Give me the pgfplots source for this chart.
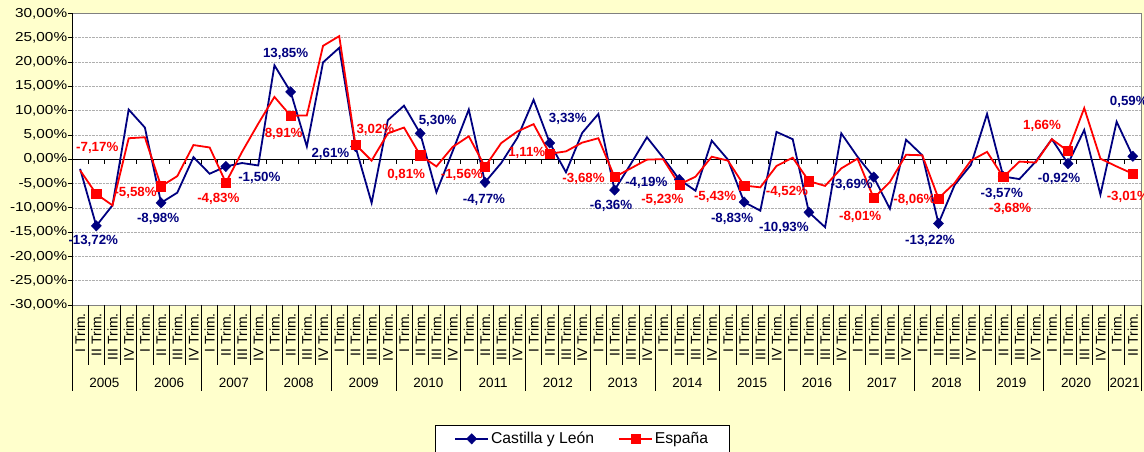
\documentclass[border=0pt]{standalone}
\usepackage{fontspec}
\setmainfont{Liberation Sans}
\usepackage{pgfplots}
\pgfplotsset{compat=1.18}
\usepackage{pgfplotstable}
\definecolor{navy}{RGB}{0,0,128}
\definecolor{exred}{RGB}{255,0,0}
\definecolor{bgyellow}{RGB}{255,255,204}
\definecolor{gridgray}{RGB}{175,175,175}

\pgfplotstableread{
x y
0 -2.0
1 -13.72
2 -9.5
3 10.2
4 6.5
5 -8.98
6 -6.9
7 0.4
8 -3.0
9 -1.50
10 -0.8
11 -1.3
12 19.3
13 13.85
14 2.6
15 19.9
16 22.9
17 2.61
18 -9.0
19 8.0
20 11.0
21 5.30
22 -6.8
23 1.6
24 10.2
25 -4.77
26 -0.8
27 4.4
28 12.2
29 3.33
30 -2.7
31 5.4
32 9.3
33 -6.36
34 -1.0
35 4.5
36 0.3
37 -4.19
38 -6.5
39 3.8
40 -0.1
41 -8.83
42 -10.6
43 5.6
44 4.1
45 -10.93
46 -14.0
47 5.3
48 0.5
49 -3.69
50 -10.2
51 4.0
52 0.8
53 -13.22
54 -5.3
55 -1.2
56 9.3
57 -3.57
58 -4.1
59 -0.5
60 4.1
61 -0.92
62 6.0
63 -7.3
64 7.7
65 0.59
}\castilla

\pgfplotstableread{
x y
0 -2.3
1 -7.17
2 -9.5
3 4.3
4 4.5
5 -5.58
6 -3.5
7 2.9
8 2.4
9 -4.83
10 1.5
11 7.3
12 12.8
13 8.91
14 9.0
15 23.3
16 25.3
17 3.02
18 -0.3
19 5.3
20 6.5
21 0.81
22 -1.5
23 2.5
24 4.7
25 -1.56
26 3.3
27 5.7
28 7.2
29 1.11
30 1.6
31 3.4
32 4.3
33 -3.68
34 -1.9
35 -0.1
36 0.0
37 -5.23
38 -3.6
39 0.5
40 -0.3
41 -5.43
42 -5.8
43 -1.4
44 0.3
45 -4.52
46 -5.5
47 -1.9
48 0.1
49 -8.01
50 -4.7
51 0.9
52 0.8
53 -8.06
54 -4.9
55 -0.3
56 1.5
57 -3.68
58 -0.5
59 -0.7
60 4.1
61 1.66
62 10.5
63 0.1
64 -1.5
65 -3.01
}\espana

\begin{document}
\begin{tikzpicture}
\useasboundingbox (0pt,0pt) rectangle (1144pt,452pt);
\fill[bgyellow] (0pt,0pt) rectangle (1144pt,452pt);
\begin{axis}[
  at={(72pt,147pt)}, anchor=south west,
  scale only axis, width=1069pt, height=291.7pt,
  xmin=-0.5, xmax=65.5, ymin=-30, ymax=30,
  clip=false,
  axis background/.style={fill=white},
  axis line style={draw=gray, line width=0.6pt},
  ytick={-30,-25,...,30},
  ymajorgrids,
  grid style={gridgray, densely dotted, line width=0.5pt},
  tick align=outside,
  major tick length=4pt,
  ytick pos=left,
  ytick style={black, line width=0.6pt},
  /pgf/number format/assume math mode=true,
  yticklabel={\pgfmathprintnumber[fixed,fixed zerofill,precision=2,use comma]{\tick}\%},
  yticklabel style={font=\fontsize{13}{15}\selectfont, xscale=1.18, inner xsep=0.5pt},
  xtick={0,...,65},
  xtick style={draw=none},
  xticklabels={I Trim.,II Trim.,III Trim.,IV Trim.,I Trim.,II Trim.,III Trim.,IV Trim.,I Trim.,II Trim.,III Trim.,IV Trim.,I Trim.,II Trim.,III Trim.,IV Trim.,I Trim.,II Trim.,III Trim.,IV Trim.,I Trim.,II Trim.,III Trim.,IV Trim.,I Trim.,II Trim.,III Trim.,IV Trim.,I Trim.,II Trim.,III Trim.,IV Trim.,I Trim.,II Trim.,III Trim.,IV Trim.,I Trim.,II Trim.,III Trim.,IV Trim.,I Trim.,II Trim.,III Trim.,IV Trim.,I Trim.,II Trim.,III Trim.,IV Trim.,I Trim.,II Trim.,III Trim.,IV Trim.,I Trim.,II Trim.,III Trim.,IV Trim.,I Trim.,II Trim.,III Trim.,IV Trim.,I Trim.,II Trim.,III Trim.,IV Trim.,I Trim.,II Trim.},
  xticklabel style={rotate=90, anchor=east, font=\fontsize{14}{16}\selectfont, inner xsep=4pt},
  legend columns=2,
  legend style={at={(axis description cs:0.3396,-0.4114)}, anchor=north west,
    draw=black, line width=0.6pt, fill=white, font=\fontsize{15.7}{18}\selectfont,
    inner xsep=19pt, inner ysep=5pt,
    /tikz/every even column/.append style={column sep=22pt}},
  legend image code/.code={
    \draw[#1, mark=none] (0pt,0pt) -- (33pt,0pt);
    \draw[#1, mark repeat=1, mark phase=1] plot coordinates {(16.5pt,0pt)};
  },
]
% zero line with its ticks
\draw[black, line width=0.8pt] (axis cs:-0.5,0) -- (axis cs:65.5,0);
\pgfplotsinvokeforeach{0.5,1.5,...,64.5}{\draw[black, line width=0.6pt] (axis cs:#1,0) -- ++(0pt,-5pt);}
% category separators below the plot
\pgfplotsinvokeforeach{0.5,1.5,...,64.5}{\draw[black, line width=0.7pt] (axis cs:#1,-30) -- ++(0pt,-60pt);}
\pgfplotsinvokeforeach{-0.5,3.5,...,63.5}{\draw[black, line width=0.7pt] (axis cs:#1,-30) -- ++(0pt,-86pt);}
\draw[black, line width=0.7pt] (axis cs:65.5,-30) -- ++(0pt,-86pt);
\draw[black, line width=0.8pt] (axis cs:-0.5,-30) -- (axis cs:-0.5,30);
% year labels
\begin{scope}[every node/.style={font=\fontsize{13.5}{15}\selectfont, yshift=-78pt}]
\node at (axis cs:1.5,-30) {2005};
\node at (axis cs:5.5,-30) {2006};
\node at (axis cs:9.5,-30) {2007};
\node at (axis cs:13.5,-30) {2008};
\node at (axis cs:17.5,-30) {2009};
\node at (axis cs:21.5,-30) {2010};
\node at (axis cs:25.5,-30) {2011};
\node at (axis cs:29.5,-30) {2012};
\node at (axis cs:33.5,-30) {2013};
\node at (axis cs:37.5,-30) {2014};
\node at (axis cs:41.5,-30) {2015};
\node at (axis cs:45.5,-30) {2016};
\node at (axis cs:49.5,-30) {2017};
\node at (axis cs:53.5,-30) {2018};
\node at (axis cs:57.5,-30) {2019};
\node at (axis cs:61.5,-30) {2020};
\node at (axis cs:64.5,-30) {2021};
\end{scope}

\addplot[navy, line width=1.8pt, mark=diamond*, mark repeat=4, mark phase=2,
  mark size=5.2pt, mark options={solid, xscale=1.3, line width=0.4pt, fill=navy}]
  table[x=x,y=y]{\castilla};
\addlegendentry{Castilla y León}
\addplot[exred, line width=1.8pt, mark=square*, mark repeat=4, mark phase=2,
  mark size=4.6pt, mark options={solid, line width=0.4pt, fill=exred}]
  table[x=x,y=y]{\espana};
\addlegendentry{España}

% data labels (Castilla y León)
\begin{scope}[every node/.style={anchor=center, inner sep=0pt, text=navy, font=\bfseries\fontsize{13.3}{15}\selectfont}]
\node[xshift=-3pt, yshift=-15pt] at (axis cs:1,-13.72) {-13,72\%};
\node[xshift=-3pt, yshift=-16pt] at (axis cs:5,-8.98) {-8,98\%};
\node[xshift=33.5pt, yshift=-11pt] at (axis cs:9,-1.50) {-1,50\%};
\node[xshift=-5pt, yshift=38pt] at (axis cs:13,13.85) {13,85\%};
\node[xshift=-25pt, yshift=-7pt] at (axis cs:17,2.61) {2,61\%};
\node[xshift=17.5pt, yshift=12pt] at (axis cs:21,5.30) {5,30\%};
\node[xshift=-1pt, yshift=-17.5pt] at (axis cs:25,-4.77) {-4,77\%};
\node[xshift=18pt, yshift=24pt] at (axis cs:29,3.33) {3,33\%};
\node[xshift=-3.5pt, yshift=-15.5pt] at (axis cs:33,-6.36) {-6,36\%};
\node[xshift=-33pt, yshift=-3.6pt] at (axis cs:37,-4.19) {-4,19\%};
\node[xshift=-12pt, yshift=-17pt] at (axis cs:41,-8.83) {-8,83\%};
\node[xshift=-25pt, yshift=-16pt] at (axis cs:45,-10.93) {-10,93\%};
\node[xshift=-22pt, yshift=-8pt] at (axis cs:49,-3.69) {-3,69\%};
\node[xshift=-8.5pt, yshift=-17pt] at (axis cs:53,-13.22) {-13,22\%};
\node[xshift=-1.5pt, yshift=-17pt] at (axis cs:57,-3.57) {-3,57\%};
\node[xshift=-9pt, yshift=-15pt] at (axis cs:61,-0.92) {-0,92\%};
\node[xshift=-4pt, yshift=54pt] at (axis cs:65,0.59) {0,59\%};
\end{scope}
% data labels (España)
\begin{scope}[every node/.style={anchor=center, inner sep=0pt, text=exred, font=\bfseries\fontsize{13.3}{15}\selectfont}]
\node[xshift=1pt, yshift=46.5pt] at (axis cs:1,-7.17) {-7,17\%};
\node[xshift=-25.5pt, yshift=-7pt] at (axis cs:5,-5.58) {-5,58\%};
\node[xshift=-7.5pt, yshift=-16.5pt] at (axis cs:9,-4.83) {-4,83\%};
\node[xshift=-7pt, yshift=-18pt] at (axis cs:13,8.91) {8,91\%};
\node[xshift=20pt, yshift=15pt] at (axis cs:17,3.02) {3,02\%};
\node[xshift=-14pt, yshift=-19.6pt] at (axis cs:21,0.81) {0,81\%};
\node[xshift=-23pt, yshift=-8pt] at (axis cs:25,-1.56) {-1,56\%};
\node[xshift=-23pt, yshift=0.6pt] at (axis cs:29,1.11) {1,11\%};
\node[xshift=-31pt, yshift=-2pt] at (axis cs:33,-3.68) {-3,68\%};
\node[xshift=-17pt, yshift=-15pt] at (axis cs:37,-5.23) {-5,23\%};
\node[xshift=-29pt, yshift=-11pt] at (axis cs:41,-5.43) {-5,43\%};
\node[xshift=-22pt, yshift=-11pt] at (axis cs:45,-4.52) {-4,52\%};
\node[xshift=-13.5pt, yshift=-18.5pt] at (axis cs:49,-8.01) {-8,01\%};
\node[xshift=-24pt, yshift=-1.5pt] at (axis cs:53,-8.06) {-8,06\%};
\node[xshift=7pt, yshift=-32pt] at (axis cs:57,-3.68) {-3,68\%};
\node[xshift=-26pt, yshift=25.5pt] at (axis cs:61,1.66) {1,66\%};
\node[xshift=-5pt, yshift=-23pt] at (axis cs:65,-3.01) {-3,01\%};
\end{scope}
\end{axis}
\end{tikzpicture}
\end{document}
